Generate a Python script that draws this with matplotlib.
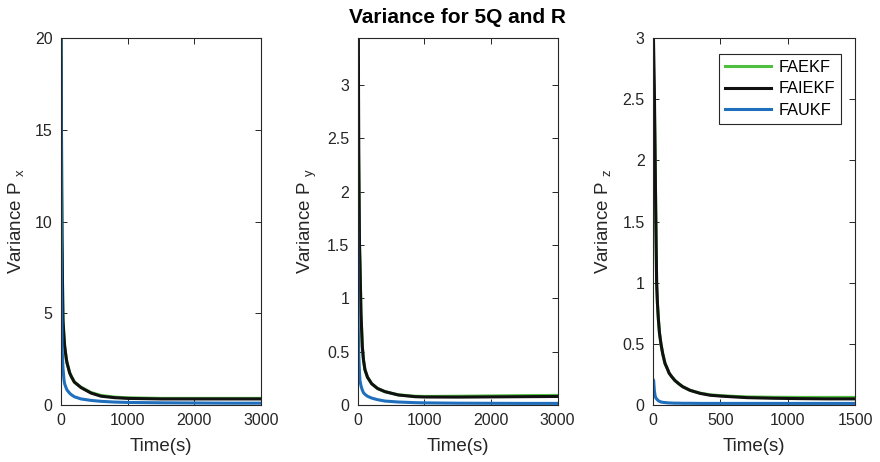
import matplotlib
matplotlib.use("Agg")
import matplotlib.pyplot as plt

plt.rcParams['font.family'] = ['Liberation Sans', 'DejaVu Sans']
plt.rcParams['mathtext.fontset'] = 'custom'
plt.rcParams['mathtext.rm'] = 'Liberation Sans'

# time samples (s)
t_x = [0, 5, 10, 15, 25, 30, 45, 55, 80, 90, 130, 155, 200, 300, 450, 600, 800, 1000, 1500, 2000, 2500, 3000]
t_y = [0, 10, 15, 20, 30, 37, 52, 72, 90, 112, 150, 212, 300, 412, 612, 862, 1000, 1500, 2000, 2500, 3000]
t_z = [0, 5, 10, 15, 20, 27, 33, 40, 48, 59, 72, 89, 105, 120, 140, 163, 190, 220, 275, 350, 423, 500, 572, 700, 900, 1100, 1300, 1500]

# variance P_x
px_ekf = [20, 17, 12, 9.0, 5.8, 4.6, 3.7, 3.2, 2.5, 2.3, 1.75, 1.55, 1.25, 0.97, 0.68, 0.52, 0.43, 0.39, 0.36, 0.36, 0.36, 0.36]
px_iekf = [20, 17, 12, 9.0, 5.8, 4.6, 3.7, 3.2, 2.5, 2.3, 1.75, 1.55, 1.25, 0.95, 0.65, 0.48, 0.4, 0.36, 0.33, 0.33, 0.33, 0.33]
px_ukf = [20, 11, 6.0, 3.2, 2.4, 2.0, 1.36, 1.15, 0.9, 0.82, 0.64, 0.56, 0.45, 0.33, 0.25, 0.2, 0.16, 0.14, 0.12, 0.11, 0.1, 0.1]

# variance P_y
py_ekf = [2.62, 2.55, 2.4, 2.2, 1.5, 1.33, 0.86, 0.55, 0.42, 0.33, 0.26, 0.2, 0.155, 0.125, 0.095, 0.082, 0.08, 0.082, 0.085, 0.088, 0.09]
py_iekf = [6.0, 4.5, 3.0, 2.25, 1.5, 1.33, 0.86, 0.55, 0.42, 0.33, 0.26, 0.2, 0.155, 0.125, 0.094, 0.078, 0.075, 0.074, 0.076, 0.078, 0.08]
py_ukf = [1.88, 0.8, 0.6, 0.45, 0.3, 0.23, 0.18, 0.14, 0.115, 0.1, 0.082, 0.065, 0.05, 0.037, 0.028, 0.022, 0.02, 0.017, 0.016, 0.015, 0.015]

# variance P_z
pz_ekf = [2.55, 2.5, 2.45, 2.1, 1.6, 1.0, 0.83, 0.7, 0.59, 0.5, 0.42, 0.34, 0.3, 0.26, 0.23, 0.2, 0.175, 0.15, 0.12, 0.097, 0.083, 0.077, 0.072, 0.066, 0.063, 0.062, 0.062, 0.062]
pz_iekf = [3.2, 2.9, 2.6, 2.1, 1.6, 1.0, 0.83, 0.7, 0.59, 0.5, 0.42, 0.34, 0.3, 0.26, 0.23, 0.2, 0.175, 0.15, 0.12, 0.095, 0.08, 0.073, 0.068, 0.06, 0.055, 0.052, 0.05, 0.05]
pz_ukf = [0.21, 0.2, 0.12, 0.08, 0.06, 0.05, 0.042, 0.035, 0.03, 0.025, 0.022, 0.02, 0.018, 0.017, 0.016, 0.015, 0.015, 0.014, 0.014, 0.013, 0.013, 0.013, 0.013, 0.013, 0.013, 0.013, 0.013, 0.013]

names = ['FAEKF', 'FAIEKF', 'FAUKF']
colors = ['#4fbf3f', '#111111', '#1f6fbd']

fig = plt.figure(figsize=(8.8, 4.62), dpi=100)

lefts = [61 / 880, 357.5 / 880, 653 / 880]
widths = [200 / 880, 200 / 880, 202 / 880]
bottom = 1 - 405 / 462
height = 367 / 462

panels = [
    (t_x, [px_ekf, px_iekf, px_ukf], 'x', (0, 3000), [0, 1000, 2000, 3000], (0, 20), [0, 5, 10, 15, 20]),
    (t_y, [py_ekf, py_iekf, py_ukf], 'y', (0, 3000), [0, 1000, 2000, 3000], (0, 3.44), [0, 0.5, 1, 1.5, 2, 2.5, 3]),
    (t_z, [pz_ekf, pz_iekf, pz_ukf], 'z', (0, 1500), [0, 500, 1000, 1500], (0, 3), [0, 0.5, 1, 1.5, 2, 2.5, 3]),
]

axes = []
for i, (t, series, sub, xl, xt, yl, yt) in enumerate(panels):
    ax = fig.add_axes([lefts[i], bottom, widths[i], height])
    for vals, c, n in zip(series, colors, names):
        ax.plot(t, vals, color=c, lw=2.2, label=n)
    ax.set_xlim(*xl)
    ax.set_ylim(*yl)
    ax.set_xticks(xt)
    ax.set_yticks(yt)
    ax.set_yticklabels([('%g' % v) for v in yt])
    ax.tick_params(direction='in', top=True, right=True, length=4, width=0.7,
                   labelsize=11.5, colors='#262626', labelcolor='#262626', pad=6)
    for s in ax.spines.values():
        s.set_linewidth(0.8)
        s.set_color('#262626')
    ax.set_xlabel('Time(s)', fontsize=13.5, color='#262626', labelpad=7)
    ax.set_ylabel('Variance P $_{\\mathregular{%s}}$' % sub, fontsize=13.5, color='#262626', labelpad=6)
    axes.append(ax)

axes[1].set_title('Variance for 5Q and R', fontsize=15, fontweight='bold', pad=11)

leg = axes[2].legend(loc='upper right', bbox_to_anchor=(0.931, 0.956), fontsize=11.8,
                     fancybox=False, edgecolor='#262626', framealpha=1, borderaxespad=0,
                     handlelength=2.8, labelspacing=0.4, borderpad=0.35, handletextpad=0.5)
leg.get_frame().set_linewidth(0.8)

fig.savefig('out.png', dpi=100)
